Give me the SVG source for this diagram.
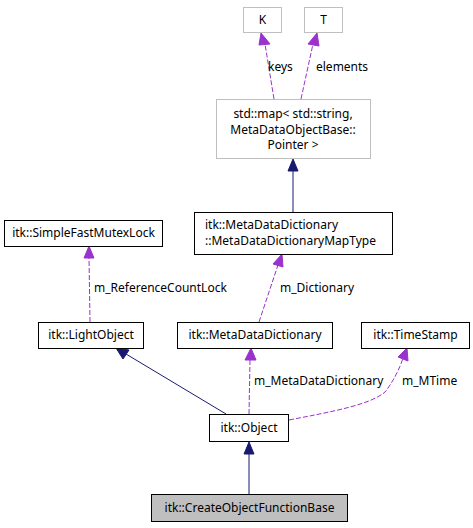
<svg xmlns="http://www.w3.org/2000/svg" width="473" height="528" viewBox="0 0 473 528">
<style>
text{font-family:"Noto Sans","DejaVu Sans",sans-serif;font-size:12px;fill:#000}
.c{text-anchor:middle}
.n{fill:#fff;stroke:#000;stroke-width:1}
.g{fill:#fff;stroke:#bfbfbf;stroke-width:1}
.h{fill:#bfbfbf;stroke:#000;stroke-width:1}
.inh{fill:none;stroke:#191970;stroke-width:1}
.use{fill:none;stroke:#9a32cd;stroke-width:1;stroke-dasharray:5,2}
.ah{fill:#191970;stroke:#191970}
.au{fill:#9a32cd;stroke:#9a32cd}
</style>
<rect width="473" height="528" fill="#fff"/>
<g id="edges">
<path class="use" d="M274,99 L265,44"/>
<polygon class="au" points="261,33 259,45 270,44"/>
<text x="268" y="71">keys</text>
<path class="use" d="M301,99 L313,44"/>
<polygon class="au" points="317,33 308,44 319,46"/>
<text x="316" y="71">elements</text>
<path class="inh" d="M293,212 L293,170"/>
<polygon class="ah" points="293,159 288,171 298,171"/>
<path class="use" d="M90,322 L89,258"/>
<polygon class="au" points="89,246 84,258 94,258"/>
<text x="94" y="292">m_ReferenceCountLock</text>
<path class="use" d="M259,322 L278,265"/>
<polygon class="au" points="282,254 273,264 283,267"/>
<text x="280" y="292">m_Dictionary</text>
<path class="inh" d="M226,414 L126,354"/>
<polygon class="ah" points="116,348 123,359 129,350"/>
<path class="use" d="M249,414 L250,360"/>
<polygon class="au" points="251,348 245,360 256,360"/>
<text x="254" y="385">m_MetaDataDictionary</text>
<path class="use" d="M289,420 C330,412 370,405 385,392 C393,382 400,368 403,358"/>
<polygon class="au" points="407,348 398,357 408,361"/>
<text x="402" y="385">m_MTime</text>
<path class="inh" d="M249,494 L249,453"/>
<polygon class="ah" points="249,442 244,454 254,454"/>
</g>
<g id="node-K"><rect class="g" x="243.5" y="7.5" width="38" height="25"/><text class="c" x="262.5" y="24">K</text></g>
<g id="node-T"><rect class="g" x="304.5" y="7.5" width="38" height="25"/><text class="c" x="323.5" y="24">T</text></g>
<g id="node-map"><rect class="g" x="216.5" y="99.5" width="154" height="59"/>
<text class="c" x="293" y="118">std::map&lt; std::string,</text>
<text class="c" x="293" y="134">MetaDataObjectBase::</text>
<text class="c" x="293" y="149">Pointer &gt;</text></g>
<g id="node-mutex"><rect class="n" x="4.5" y="220.5" width="158" height="26"/><text class="c" x="83.5" y="237">itk::SimpleFastMutexLock</text></g>
<g id="node-maptype"><rect class="n" x="194.5" y="212.5" width="198" height="42"/>
<text x="205" y="229">itk::MetaDataDictionary</text>
<text x="205" y="245">::MetaDataDictionaryMapType</text></g>
<g id="node-light"><rect class="n" x="38.5" y="322.5" width="105" height="26"/><text class="c" x="91" y="339">itk::LightObject</text></g>
<g id="node-mdd"><rect class="n" x="177.5" y="322.5" width="155" height="26"/><text class="c" x="255" y="339">itk::MetaDataDictionary</text></g>
<g id="node-ts"><rect class="n" x="361.5" y="322.5" width="108" height="26"/><text class="c" x="415.5" y="339">itk::TimeStamp</text></g>
<g id="node-object"><rect class="n" x="209.5" y="414.5" width="79" height="27"/><text class="c" x="249" y="432">itk::Object</text></g>
<g id="node-create"><rect class="h" x="151.5" y="494.5" width="196" height="27"/><text class="c" x="249.5" y="512">itk::CreateObjectFunctionBase</text></g>
</svg>
